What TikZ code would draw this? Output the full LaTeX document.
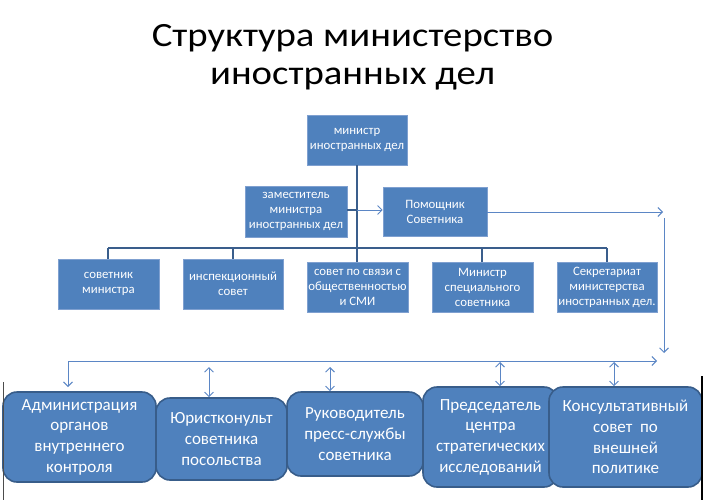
\documentclass[tikz,border=0pt]{standalone}
\usepackage{fontspec}
\setmainfont{Carlito}
\newfontfamily\titlefont[FakeStretch=1.14]{Carlito}
\usetikzlibrary{arrows.meta}
\definecolor{boxblue}{HTML}{4F81BD}
\definecolor{boxrim}{HTML}{7FA0D0}
\definecolor{darkline}{HTML}{3A5E8C}
\definecolor{lightline}{HTML}{5B86C5}
\definecolor{boxedge}{HTML}{385D8A}
\begin{document}
\begin{tikzpicture}[x=1pt,y=-1pt,
  sbox/.style={draw=boxrim, line width=0.6pt, fill=boxblue, text=white,
    font=\fontsize{12.8}{15}\selectfont, align=center, inner sep=0pt},
  rbox/.style={draw=boxedge, line width=1.6pt, fill=boxblue, text=white,
    rounded corners=14pt, font=\fontsize{17}{20.7}\selectfont, align=center, inner sep=0pt},
  titletext/.style={font=\titlefont\fontsize{34}{40}\selectfont, anchor=base, inner sep=0pt},
  dline/.style={draw=darkline, line width=1.7pt},
  lline/.style={draw=lightline, line width=0.9pt},
  barbend/.style={-{Straight Barb[length=4.5pt,width=9pt]}},
  barbboth/.style={{Straight Barb[length=4.5pt,width=9pt]}-{Straight Barb[length=4.5pt,width=9pt]}}
]
\useasboundingbox[fill=white] (0,0) rectangle (703,500);

% title
\node[titletext] (t1) at (352.5,47) {Структура министерство};
\node[titletext] (t2) at (352.5,85) {иностранных дел};

% top boxes
\node[sbox, minimum width=100pt, minimum height=50pt] (m) at (357,140) {министр\\иностранных дел};
\node[sbox, minimum width=102pt, minimum height=51pt] (dep) at (296,211.5) {заместитель\\министра\\иностранных дел};
\node[sbox, minimum width=104pt, minimum height=49pt] (pom) at (435,211.5) {Помощник\\Советника};

% row of boxes
\node[sbox, minimum width=101pt, minimum height=50pt] (s1) at (108.5,284) {советник\\министра};
\node[sbox, minimum width=100pt, minimum height=50pt] (s2) at (233,284) {инспекционный\\совет};
\node[sbox, minimum width=101pt, minimum height=50pt] (s3) at (357.5,287) {совет по связи с\\общественностью\\и СМИ};
\node[sbox, minimum width=101pt, minimum height=50pt] (s4) at (482.5,287) {Министр\\специального\\советника};
\node[sbox, minimum width=100pt, minimum height=50pt] (s5) at (607,287) {Секретариат\\министерства\\иностранных дел.};

% coordinates
\coordinate (busL) at (108,248);
\coordinate (busR) at (607,248);
\coordinate (busM) at (357,248);
\coordinate (junc) at (357,210);
\coordinate (pomEnd) at (663,212);
\coordinate (vTop) at (664,218);
\coordinate (vBot) at (664,353);
\coordinate (hR) at (657,361);
\coordinate (hL) at (68,361);
\coordinate (aTop) at (68,387);

% dark connectors
\draw[dline] (m.south) -- (busM);
\draw[dline] (busL) -- (busR);
\draw[dline] (dep.east |- junc) -- (junc);
\foreach \n/\x in {s1/108,s2/233,s3/357,s4/482,s5/607}
  \draw[dline] (\x,248) -- (\n.north -| {(\x,0)});

% light arrows
\draw[lline, barbend] (junc) -- (pom.west |- junc);
\draw[lline, barbend] (pom.east |- pomEnd) -- (pomEnd);
\draw[lline, barbend] (vTop) -- (vBot);
\draw[lline, barbboth] (aTop) -- (hL) -- (hR);

% bottom rounded boxes
\node[rbox, minimum width=153pt, minimum height=90pt] (ba) at (79.5,437) {Администрация\\органов\\внутреннего\\контроля};
\node[rbox, minimum width=131pt, minimum height=82pt] (bb) at (221.5,439) {Юристконульт\\советника\\посольства};
\node[rbox, minimum width=136pt, minimum height=84pt] (bc) at (355,434) {Руководитель\\пресс-службы\\советника};
\node[rbox, minimum width=135pt, minimum height=100pt] (bd) at (490.5,437) {Председатель\\центра\\стратегических\\исследований};
\node[rbox, minimum width=153pt, minimum height=100pt] (be) at (625.5,437) {Консультативный\\совет\ \ по\\внешней\\политике};

% double arrows
\coordinate (qb) at (209,367);
\coordinate (qc) at (330,367);
\coordinate (qd) at (500,362);
\coordinate (qe) at (614,362);
\draw[lline, barbboth] (qb) -- (qb |- bb.north);
\draw[lline, barbboth] (qc) -- (qc |- bc.north);
\draw[lline, barbboth] (qd) -- (qd |- bd.north);
\draw[lline, barbboth] (qe) -- (qe |- be.north);

% slide edge lines
\draw[black!70, line width=0.8pt] (3,382) -- (3,500);
\draw[black, line width=2pt] (702,376) -- (702,500);
\end{tikzpicture}
\end{document}
